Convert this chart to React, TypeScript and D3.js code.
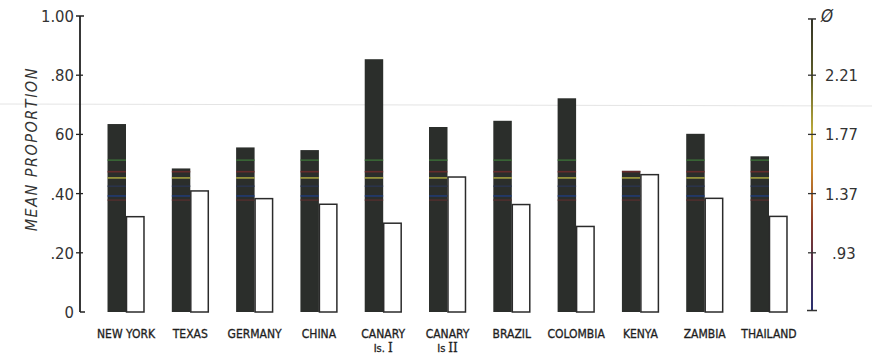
import React from "react";
import * as d3 from "d3";

const categories = ["NEW YORK", "TEXAS", "GERMANY", "CHINA", "CANARY", "CANARY", "BRAZIL", "COLOMBIA", "KENYA", "ZAMBIA", "THAILAND"];
const subPrefix = ["", "", "", "", "Is.", "Is", "", "", "", "", ""];
const subNumeral = ["", "", "", "", "I", "II", "", "", "", "", ""];
const darkValues = [0.635, 0.485, 0.556, 0.547, 0.854, 0.625, 0.646, 0.722, 0.477, 0.602, 0.526];
const whiteValues = [0.322, 0.409, 0.383, 0.364, 0.3, 0.456, 0.363, 0.289, 0.464, 0.384, 0.323];
const leftTicks = [0, 0.2, 0.4, 0.6, 0.8, 1.0];
const leftTickLabels = ["0", ".20", ".40", "60", ".80", "1.00"];
const rightTicks = [0.2, 0.4, 0.6, 0.8];
const rightTickLabels = [".93", "1.37", "1.77", "2.21"];
const stripeValues = [0.513, 0.474, 0.453, 0.425, 0.392, 0.378];
const stripeColors = ["#3f7a3a", "#7a2b2b", "#c9c445", "#2b3656", "#1e3f8a", "#5a3030"];

const W = 872;
const H = 359;

export default function App() {
  const y = d3.scaleLinear().domain([0, 1]).range([312, 16]);
  const x = d3
    .scaleBand<number>()
    .domain(d3.range(categories.length))
    .range([93.85, 801.15])
    .paddingInner(0.425)
    .paddingOuter(0.2125);
  const sub = d3.scaleBand<string>().domain(["dark", "white"]).range([0, x.bandwidth()]).paddingInner(0.0);
  const bw = sub.bandwidth();
  const axisX = 80;
  const rAxisX = 812;
  const font = "'DejaVu Sans Condensed', 'DejaVu Sans', sans-serif";

  return (
    <svg
      width={W}
      height={H}
      style={{ position: "absolute", left: 0, top: 0, background: "#fff" }}
      xmlns="http://www.w3.org/2000/svg"
    >
      <defs>
        <linearGradient id="rgrad" x1="0" y1="0" x2="0" y2="1">
          <stop offset="0" stopColor="#333326" />
          <stop offset="0.2" stopColor="#5e5e2a" />
          <stop offset="0.38" stopColor="#b9a83a" />
          <stop offset="0.52" stopColor="#c8862c" />
          <stop offset="0.7" stopColor="#8a3a2a" />
          <stop offset="0.85" stopColor="#4a3050" />
          <stop offset="1" stopColor="#2a3070" />
        </linearGradient>
      </defs>

      {/* faint scan line */}
      <line x1={0} x2={W} y1={104} y2={106} stroke="#e4e4e4" strokeWidth={1} />

      {/* bars */}
      {categories.map((c, i) => {
        const x0 = x(i)!;
        const dv = darkValues[i];
        const wv = whiteValues[i];
        return (
          <g key={i}>
            <rect x={x0 + sub("dark")!} y={y(dv)} width={bw} height={y(0) - y(dv)} fill="#2b2e2b" />
            {stripeValues.map((s, k) =>
              s < dv ? (
                <rect
                  key={k}
                  x={x0 + sub("dark")!}
                  y={y(s) - 0.8}
                  width={bw}
                  height={1.6}
                  fill={stripeColors[k]}
                  opacity={0.75}
                />
              ) : null
            )}
            <rect
              x={x0 + sub("white")! + 0.5}
              y={y(wv)}
              width={bw - 1}
              height={y(0) - y(wv)}
              fill="#fff"
              stroke="#2b2b2b"
              strokeWidth={1.5}
            />
            <text
              x={x0 + x.bandwidth() / 2}
              y={338}
              textAnchor="middle"
              fontFamily={font}
              fontSize={12}
              fontWeight={400}
              fill="#1e1e1e"
              stroke="#1e1e1e"
              strokeWidth={0.3}
            >
              {c}
            </text>
            {subPrefix[i] ? (
              <text
                x={x0 + x.bandwidth() / 2}
                y={352}
                textAnchor="middle"
                fontFamily={font}
                fontSize={11}
                fontWeight={400}
                fill="#1e1e1e"
                stroke="#1e1e1e"
                strokeWidth={0.3}
              >
                {subPrefix[i]}
                <tspan fontFamily="'DejaVu Serif', serif" dx={3} fontSize={12}>
                  {subNumeral[i]}
                </tspan>
              </text>
            ) : null}
          </g>
        );
      })}

      {/* left axis */}
      <line x1={axisX} x2={axisX} y1={y(1)} y2={y(0)} stroke="#222" strokeWidth={1.8} />
      <line x1={axisX - 4} x2={axisX + 4} y1={y(1)} y2={y(1)} stroke="#222" strokeWidth={1.5} />
      {leftTicks.map((t, i) => (
        <g key={i}>
          {t > 0 && t < 1 ? (
            <line x1={axisX - 4} x2={axisX + 3} y1={y(t)} y2={y(t)} stroke="#222" strokeWidth={1.3} />
          ) : null}
          {t === 0 ? (
            <line x1={axisX} x2={axisX + 5} y1={y(0)} y2={y(0)} stroke="#222" strokeWidth={1.5} />
          ) : null}
          <text
            x={axisX - 6}
            y={y(t)}
            dy="0.36em"
            textAnchor="end"
            fontFamily={font}
            fontSize={16.5}
            fill="#333"
          >
            {leftTickLabels[i]}
          </text>
        </g>
      ))}
      <text
        transform={`translate(37, ${y(0.55)}) rotate(-90)`}
        textAnchor="middle"
        fontFamily={font}
        fontStyle="italic"
        fontSize={16}
        letterSpacing={1.5}
        fill="#333"
      >
        MEAN PROPORTION
      </text>

      {/* right axis */}
      <rect x={rAxisX - 1} y={y(0.99)} width={2} height={y(0.005) - y(0.99)} fill="url(#rgrad)" />
      <line x1={rAxisX - 4} x2={rAxisX + 4} y1={y(0.99)} y2={y(0.99)} stroke="#333" strokeWidth={1.5} />
      <line x1={rAxisX - 5} x2={rAxisX + 5} y1={y(0.005)} y2={y(0.005)} stroke="#333" strokeWidth={1.5} />
      {rightTicks.map((t, i) => (
        <g key={i}>
          <line x1={rAxisX - 4} x2={rAxisX + 4} y1={y(t)} y2={y(t)} stroke="#333" strokeWidth={1.3} />
          <text
            x={t === 0.2 ? rAxisX + 20 : rAxisX + 13}
            y={y(t)}
            dy="0.36em"
            textAnchor="start"
            fontFamily={font}
            fontSize={16.5}
            fill="#333"
          >
            {rightTickLabels[i]}
          </text>
        </g>
      ))}
      <text x={rAxisX + 9} y={22} fontFamily={font} fontStyle="italic" fontSize={17} fill="#333">
        Ø
      </text>
    </svg>
  );
}
